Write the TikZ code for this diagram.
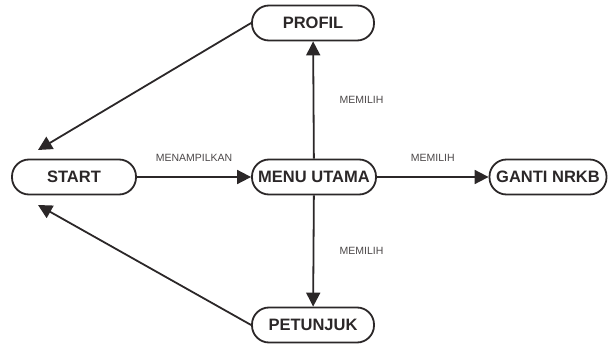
\documentclass[tikz,border=0pt]{standalone}
\usepackage{fontspec}
\setmainfont{Liberation Sans}
\usetikzlibrary{arrows.meta}

\definecolor{ink}{HTML}{2B2728}
\tikzset{
  state/.style={draw=ink, line width=1.8pt, rectangle, rounded corners=17pt,
    minimum height=35pt, inner sep=0pt, font=\fontsize{16.5}{19}\selectfont\bfseries, text=ink},
  act/.style={font=\fontsize{10.5}{12}\selectfont, text=ink!85},
}

\begin{document}
\begin{tikzpicture}[x=1pt, y=-1pt, >={Triangle[length=14pt,width=14pt]}, line width=1.8pt, ink]
\useasboundingbox (0,0) rectangle (608,345);
\draw (74,177) node[state, minimum width=124pt] (start) {START};
%
\draw (314,177) node[state, minimum width=124pt] (menu) {MENU UTAMA};
\path[draw, ->] (start) -- node[act, above=11pt]{MENAMPILKAN} (menu);
%
\draw (548,177) node[state, minimum width=117pt] (ganti) {GANTI NRKB};
\path[draw, ->] (menu) -- node[act, above=11pt]{MEMILIH} (ganti);
%
\draw (313,23) node[state, minimum width=122pt] (profil) {PROFIL};
\path[draw, ->] (menu) -- node[act, right=22pt]{MEMILIH} (profil);
%
\draw (313,325) node[state, minimum width=122pt] (petunjuk) {PETUNJUK};
\path[draw, ->] (menu) -- node[act, right=22pt]{MEMILIH} (petunjuk);
%
\coordinate (startup) at (38,150);
\coordinate (startdown) at (38,205);
\path[draw, ->] (profil.west) -- (startup);
\path[draw, ->] (petunjuk.west) -- (startdown);
\end{tikzpicture}
\end{document}
